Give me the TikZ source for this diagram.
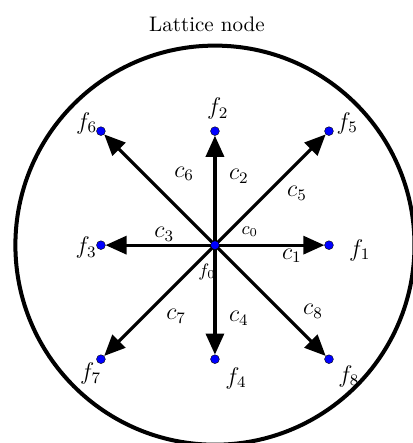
\documentclass[tikz,border=0pt]{standalone}
\usepackage{amsmath}
\usetikzlibrary{arrows.meta,positioning,backgrounds,calc}

\begin{document}
\begin{tikzpicture}[
    dot/.style={circle, fill=blue, draw=black, line width=0.2pt, inner sep=0pt, minimum size=4.4pt},
    flow/.style={line width=1.6pt, -{Triangle[length=10.5pt,width=9pt]}},
    clab/.style={inner sep=0pt, font=\large},
    flab/.style={inner sep=0pt, font=\large}
]

\definecolor{ring}{RGB}{0,0,0}
\def\R{3.5}  % radius of the outer circle
\def\d{2}    % lattice spacing

\useasboundingbox (-3.77,-3.47) rectangle (3.46,4.30);

% Outer circle and title
\draw[ring, line width=2pt] (0,0) circle (\R);
\node[font=\fontsize{10.5}{12}\selectfont] (title) at (-0.14,3.88) {Lattice node};

% Lattice sites
\node[dot] (f0) at (0,0)       {};
\node[dot] (f1) at (\d,0)      {};
\node[dot] (f2) at (0,\d)      {};
\node[dot] (f3) at (-\d,0)     {};
\node[dot] (f4) at (0,-\d)     {};
\node[dot] (f5) at (\d,\d)     {};
\node[dot] (f6) at (-\d,\d)    {};
\node[dot] (f7) at (-\d,-\d)   {};
\node[dot] (f8) at (\d,-\d)    {};

% Streaming directions (behind the dots)
\begin{scope}[on background layer]
\draw[flow] (f0.center) -- (f1);
\draw[flow] (f0.center) -- (f2);
\draw[flow] (f0.center) -- (f3);
\draw[flow] (f0.center) -- (f4);
\draw[flow] (f0.center) -- (f5);
\draw[flow] (f0.center) -- (f6);
\draw[flow] (f0.center) -- (f7);
\draw[flow] (f0.center) -- (f8);
\end{scope}

% Distribution labels
\node[flab, font=\small] (lf0) at ($(f0)+(-0.14,-0.47)$) {$f_0$};
\node[flab] (lf1) at ($(f1)+(0.54,-0.09)$)  {$f_1$};
\node[flab] (lf2) at ($(f2)+(0.05,0.39)$)   {$f_2$};
\node[flab] (lf3) at ($(f3)+(-0.26,-0.04)$) {$f_3$};
\node[flab] (lf4) at ($(f4)+(0.37,-0.33)$)  {$f_4$};
\node[flab] (lf5) at ($(f5)+(0.32,0.14)$)   {$f_5$};
\node[flab] (lf6) at ($(f6)+(-0.25,0.14)$)  {$f_6$};
\node[flab] (lf7) at ($(f7)+(-0.18,-0.25)$) {$f_7$};
\node[flab] (lf8) at ($(f8)+(0.35,-0.30)$)  {$f_8$};

% Velocity labels
\node[clab, font=\small] (c0) at (0.61,0.23) {$c_0$};
\node[clab] (c1) at (1.35,-0.19) {$c_1$};
\node[clab] (c2) at (0.42,1.21)  {$c_2$};
\node[clab] (c3) at (-0.89,0.19) {$c_3$};
\node[clab] (c4) at (0.42,-1.28) {$c_4$};
\node[clab] (c5) at (1.44,0.91)  {$c_5$};
\node[clab] (c6) at (-0.54,1.25) {$c_6$};
\node[clab] (c7) at (-0.68,-1.25) {$c_7$};
\node[clab] (c8) at (1.72,-1.16) {$c_8$};

\end{tikzpicture}
\end{document}
